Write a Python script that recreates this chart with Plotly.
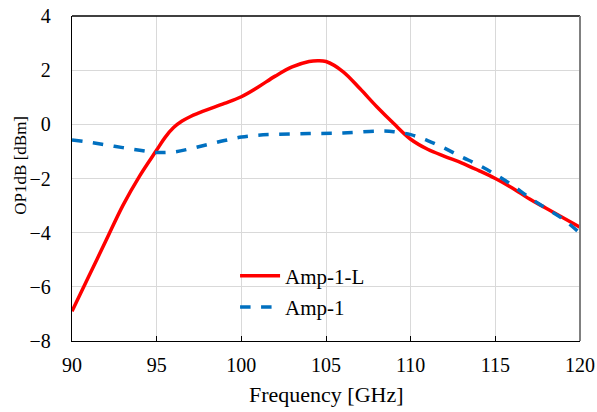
import plotly.graph_objects as go

freq_l = [90, 91, 92, 93, 94, 95, 95.5, 96, 96.5, 97, 97.5, 98, 99, 100, 101, 102, 103, 104, 104.5, 105, 106, 107, 108, 109, 110, 111, 112, 113, 114, 115, 116, 117, 118, 119, 120]
op_l = [-6.9, -5.6, -4.3, -3.0, -1.9, -0.95, -0.48, -0.12, 0.12, 0.29, 0.42, 0.54, 0.77, 1.02, 1.38, 1.78, 2.12, 2.32, 2.35, 2.32, 1.95, 1.32, 0.65, 0.03, -0.55, -0.92, -1.18, -1.42, -1.7, -2.0, -2.35, -2.75, -3.1, -3.45, -3.8]

freq_a = [90, 91, 92, 93, 94, 95, 96, 97, 98, 99, 100, 101, 102, 104, 106, 108, 109, 110, 111, 112, 113, 114, 115, 116, 117, 118, 119, 120]
op_a = [-0.58, -0.66, -0.76, -0.86, -0.96, -1.04, -1.02, -0.9, -0.75, -0.6, -0.47, -0.4, -0.37, -0.34, -0.32, -0.25, -0.27, -0.38, -0.6, -0.88, -1.2, -1.5, -1.85, -2.25, -2.7, -3.1, -3.5, -4.02]

x_ticks = [90, 95, 100, 105, 110, 115, 120]
y_ticks = [-8, -6, -4, -2, 0, 2, 4]

FAM = "Liberation Serif"
font = dict(family=FAM, size=20, color="black")

fig = go.Figure()
fig.add_trace(go.Scatter(x=freq_l, y=op_l, mode="lines", name="Amp-1-L", legendgroup="a",
                         line=dict(color="#ff0000", width=3.5, shape="spline")))
fig.add_trace(go.Scatter(x=freq_a, y=op_a, mode="lines", name="Amp-1", legendgroup="b",
                         line=dict(color="#0070c0", width=3.5, dash="dash", shape="spline")))

fig.update_layout(
    width=597, height=412,
    margin=dict(l=72, r=17, t=16, b=71),
    plot_bgcolor="white", paper_bgcolor="white",
    font=font,
    showlegend=True,
    legend=dict(x=0.321, y=0.152, xanchor="left", yanchor="middle",
                bgcolor="rgba(0,0,0,0)", font=dict(family=FAM, size=21),
                itemwidth=40, tracegroupgap=1),
    xaxis=dict(range=[90, 120], tickvals=x_ticks,
               showgrid=True, gridcolor="#d9d9d9", gridwidth=1,
               showline=True, linecolor="black", linewidth=1.3,
               ticks="inside", ticklen=5, tickcolor="black",
               tickfont=dict(family=FAM, size=20), ticklabelstandoff=6,
               ticklabeloverflow="allow",
               automargin=False, zeroline=False),
    yaxis=dict(range=[-8, 4], tickvals=y_ticks,
               showgrid=True, gridcolor="#d9d9d9", gridwidth=1,
               showline=True, linecolor="black", linewidth=1.3,
               ticks="", tickfont=dict(family=FAM, size=20), ticklabelstandoff=16,
               ticklabeloverflow="allow",
               automargin=False, zeroline=False),
    shapes=[
        dict(type="line", xref="paper", yref="paper", x0=0, x1=1, y0=1, y1=1,
             line=dict(color="black", width=1.3), layer="above"),
        dict(type="line", xref="paper", yref="paper", x0=1, x1=1, y0=0, y1=1,
             line=dict(color="#808080", width=2), layer="above"),
    ],
    annotations=[
        dict(text="Frequency [GHz]", xref="paper", yref="paper", x=0.5, y=-0.166,
             xanchor="center", yanchor="middle", showarrow=False,
             font=dict(family=FAM, size=22)),
        dict(text="OP1dB [dBm]", xref="paper", yref="paper", x=-0.102, y=0.54,
             xanchor="center", yanchor="middle", showarrow=False, textangle=-90,
             font=dict(family=FAM, size=17)),
    ],
)

fig.write_html("out.html", config={"displayModeBar": False},
               post_script="document.body.style.margin='0';")
